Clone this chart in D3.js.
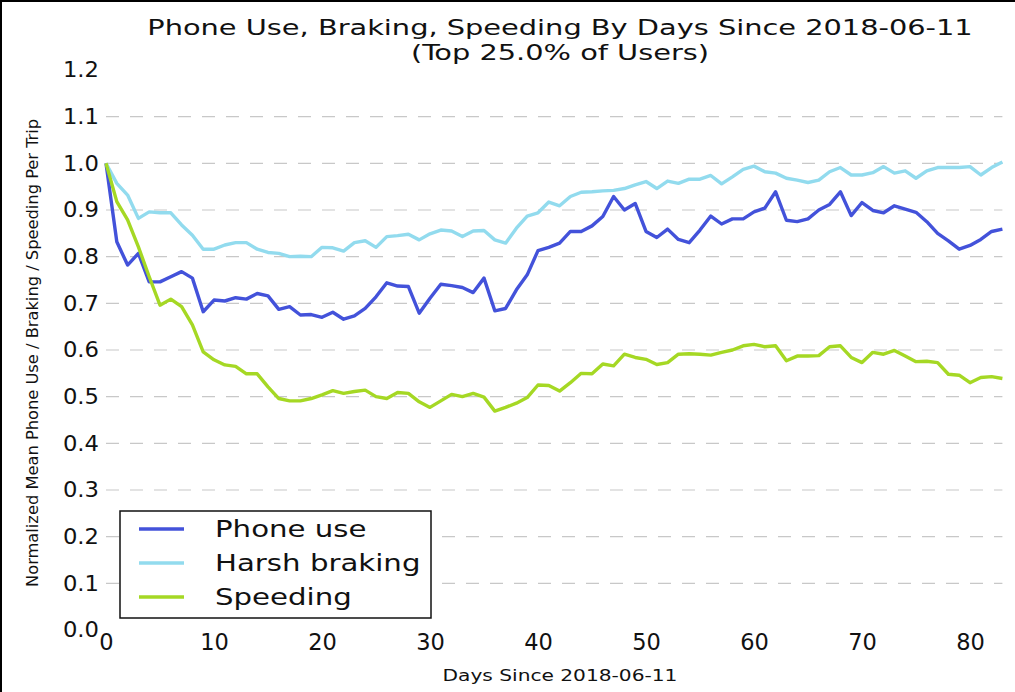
<!DOCTYPE html>
<html>
<head>
<meta charset="utf-8">
<script src="https://cdn.jsdelivr.net/npm/d3@7"></script>
<style>
    body { margin: 0; background: #fff; }
    #chart { width: 1015px; height: 692px; }
</style>
</head>
<body>
<div id="chart"></div>
<script>
// values, one per day (0..83)
const days = d3.range(0, 84);

const phoneUse = [
    1.0, 0.832, 0.782, 0.807, 0.746, 0.746, 0.757, 0.768, 0.754, 0.682,
    0.707, 0.705, 0.712, 0.709, 0.721, 0.716, 0.687, 0.693, 0.675, 0.676,
    0.670, 0.681, 0.666, 0.673, 0.689, 0.714, 0.744, 0.737, 0.736, 0.679,
    0.711, 0.741, 0.738, 0.734, 0.723, 0.754, 0.684, 0.689, 0.729, 0.761,
    0.813, 0.820, 0.829, 0.854, 0.854, 0.866, 0.886, 0.929, 0.900, 0.914,
    0.854, 0.841, 0.859, 0.837, 0.830, 0.857, 0.887, 0.870, 0.881, 0.881,
    0.896, 0.904, 0.939, 0.878, 0.875, 0.881, 0.900, 0.912, 0.939, 0.888,
    0.916, 0.899, 0.894, 0.909, 0.902, 0.895, 0.875, 0.850, 0.834, 0.816,
    0.824, 0.837, 0.854, 0.859
];

const harshBraking = [
    1.0, 0.957, 0.932, 0.882, 0.896, 0.894, 0.894, 0.868, 0.846, 0.816,
    0.816, 0.825, 0.830, 0.830, 0.816, 0.809, 0.807, 0.800, 0.801, 0.800,
    0.820, 0.819, 0.812, 0.830, 0.834, 0.820, 0.843, 0.845, 0.848, 0.836,
    0.849, 0.857, 0.855, 0.843, 0.855, 0.856, 0.836, 0.829, 0.861, 0.887,
    0.894, 0.917, 0.909, 0.929, 0.938, 0.939, 0.941, 0.942, 0.946, 0.954,
    0.961, 0.946, 0.962, 0.957, 0.966, 0.966, 0.974, 0.956, 0.971, 0.987,
    0.994, 0.982, 0.979, 0.968, 0.964, 0.959, 0.964, 0.982, 0.991, 0.975,
    0.975, 0.980, 0.993, 0.979, 0.984, 0.968, 0.984, 0.991, 0.991, 0.991,
    0.993, 0.975, 0.991, 1.003
];

const speeding = [
    1.0, 0.918, 0.879, 0.821, 0.757, 0.696, 0.709, 0.693, 0.654, 0.596,
    0.579, 0.568, 0.565, 0.549, 0.549, 0.521, 0.496, 0.491, 0.491, 0.496,
    0.504, 0.513, 0.507, 0.511, 0.514, 0.500, 0.496, 0.509, 0.507, 0.489,
    0.477, 0.491, 0.505, 0.500, 0.507, 0.499, 0.469, 0.477, 0.486, 0.498,
    0.525, 0.524, 0.512, 0.530, 0.550, 0.549, 0.570, 0.566, 0.591, 0.584,
    0.580, 0.569, 0.573, 0.591, 0.592, 0.591, 0.589, 0.595, 0.600, 0.609,
    0.612, 0.607, 0.609, 0.577, 0.587, 0.587, 0.588, 0.607, 0.609, 0.584,
    0.573, 0.595, 0.591, 0.599, 0.587, 0.575, 0.576, 0.573, 0.548, 0.546,
    0.530, 0.541, 0.543, 0.539
];

const seriesNames = ["Phone use", "Harsh braking", "Speeding"];
const seriesColors = ["#4352da", "#92dbee", "#a5d824"];

const xTicks = [0, 10, 20, 30, 40, 50, 60, 70, 80];
const yTicks = [0.0, 0.1, 0.2, 0.3, 0.4, 0.5, 0.6, 0.7, 0.8, 0.9, 1.0, 1.1, 1.2];

const titleLines = ["Phone Use, Braking, Speeding By Days Since 2018-06-11", "(Top 25.0% of Users)"];
const xLabel = "Days Since 2018-06-11";
const yLabel = "Normalized Mean Phone Use / Braking / Speeding Per Trip";

const width = 1015;
const height = 692;
const margin = { top: 70, right: 12.6, bottom: 62, left: 106 };

const condensed = "'DejaVu Sans Condensed', 'DejaVu Sans', sans-serif";
const regular = "'DejaVu Sans', sans-serif";

// the source image was stretched sideways, so widen text to match
function stretchText(sel, factor) {
    sel.each(function () {
        const len = this.getComputedTextLength();
        d3.select(this)
            .attr("textLength", len * factor)
            .attr("lengthAdjust", "spacingAndGlyphs");
    });
}

const svg = d3.select("#chart")
    .append("svg")
    .attr("width", width)
    .attr("height", height)
    .attr("viewBox", `0 0 ${width} ${height}`);

// frame edges of the original screenshot
svg.append("line").attr("x1", 1).attr("x2", 1).attr("y1", 0).attr("y2", height)
    .attr("stroke", "#000").attr("stroke-width", 2);
svg.append("line").attr("x1", 0).attr("x2", width).attr("y1", 1).attr("y2", 1)
    .attr("stroke", "#000").attr("stroke-width", 2);

const x = d3.scaleLinear()
    .domain([0, 83])
    .range([margin.left, width - margin.right]);

const y = d3.scaleLinear()
    .domain([0, 1.2])
    .range([height - margin.bottom, margin.top]);

// dashed grid
svg.append("g")
    .selectAll("line")
    .data(yTicks.filter(t => t > 0 && t < 1.2))
    .join("line")
    .attr("x1", x(0))
    .attr("x2", x(83))
    .attr("y1", d => y(d))
    .attr("y2", d => y(d))
    .attr("stroke", "#c8c8c8")
    .attr("stroke-width", 1.2)
    .attr("stroke-dasharray", "13,11");

// y axis (labels only)
const yAxis = svg.append("g")
    .attr("transform", `translate(${margin.left},0)`)
    .call(d3.axisLeft(y).tickValues(yTicks).tickFormat(d3.format(".1f")).tickSize(0).tickPadding(7));
yAxis.select(".domain").remove();
yAxis.selectAll("text")
    .attr("font-family", regular)
    .attr("font-size", 21)
    .attr("fill", "#111")
    .attr("transform", "scale(1.08,1)")
    .attr("x", -7 / 1.08);

// x axis (labels only)
const xAxis = svg.append("g")
    .attr("transform", `translate(0,${height - margin.bottom})`)
    .call(d3.axisBottom(x).tickValues(xTicks).tickFormat(d3.format("d")).tickSize(0).tickPadding(4));
xAxis.select(".domain").remove();
xAxis.selectAll("text")
    .attr("font-family", regular)
    .attr("font-size", 22.5)
    .attr("fill", "#111");

// series lines
const line = d3.line()
    .x((d, i) => x(days[i]))
    .y(d => y(d));

[phoneUse, harshBraking, speeding].forEach((values, i) => {
    svg.append("path")
        .datum(values)
        .attr("fill", "none")
        .attr("stroke", seriesColors[i])
        .attr("stroke-width", 3.4)
        .attr("stroke-linejoin", "round")
        .attr("d", line);
});

// title
svg.append("g")
    .selectAll("text")
    .data(titleLines)
    .join("text")
    .attr("x", 560)
    .attr("y", (d, i) => 35 + i * 25)
    .attr("text-anchor", "middle")
    .attr("font-family", condensed)
    .attr("font-size", 21.5)
    .attr("fill", "#111")
    .text(d => d)
    .call(stretchText, 1.49);

// axis labels
svg.append("text")
    .attr("x", 560)
    .attr("y", 681)
    .attr("text-anchor", "middle")
    .attr("font-family", condensed)
    .attr("font-size", 16)
    .attr("fill", "#111")
    .text(xLabel)
    .call(stretchText, 1.4);

svg.append("text")
    .attr("transform", `translate(38,${(margin.top + height - margin.bottom) / 2 + 3}) rotate(-90)`)
    .attr("text-anchor", "middle")
    .attr("font-family", condensed)
    .attr("font-size", 16)
    .attr("fill", "#111")
    .text(yLabel)
    .call(stretchText, 1.13);

// legend
const legend = svg.append("g").attr("transform", "translate(120,511)");
legend.append("rect")
    .attr("width", 311)
    .attr("height", 107)
    .attr("fill", "#fff")
    .attr("stroke", "#111")
    .attr("stroke-width", 1.5);

const rows = legend.selectAll("g.row")
    .data(seriesNames)
    .join("g")
    .attr("class", "row")
    .attr("transform", (d, i) => `translate(0,${18 + i * 34})`);

rows.append("line")
    .attr("x1", 19)
    .attr("x2", 64)
    .attr("stroke", (d, i) => seriesColors[i])
    .attr("stroke-width", 3.4);

rows.append("text")
    .attr("x", 95)
    .attr("y", 8)
    .attr("font-family", regular)
    .attr("font-size", 23)
    .attr("fill", "#111")
    .text(d => d)
    .call(stretchText, 1.27);
</script>
</body>
</html>
